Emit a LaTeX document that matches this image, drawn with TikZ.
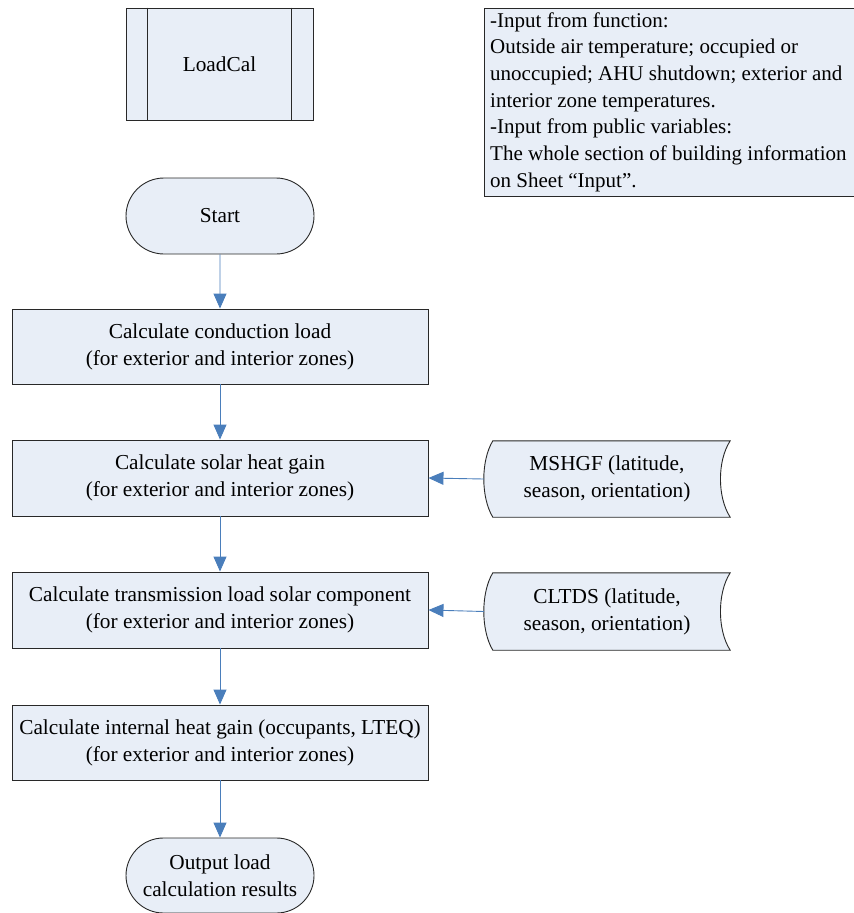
\documentclass[tikz,border=0pt]{standalone}
\usepackage{fontspec}
\setmainfont{Liberation Serif}
\usetikzlibrary{arrows.meta,shapes.misc,calc,backgrounds}
\definecolor{boxfill}{RGB}{232,238,247}
\definecolor{flow}{RGB}{74,126,187}
\definecolor{edge}{RGB}{40,40,40}

\begin{document}
\begin{tikzpicture}[x=1pt,y=-1pt,
  every node/.style={font=\fontsize{21.3}{27}\selectfont},
  proc/.style={draw=edge,fill=boxfill,line width=0.9pt,align=center,inner sep=0pt,
               minimum width=416pt,minimum height=75pt},
  term/.style={proc,rounded rectangle,minimum width=188pt,minimum height=76pt},
  datanode/.style={align=center,inner sep=0pt,minimum width=246pt,minimum height=76pt},
  datashape/.style={draw=edge,fill=boxfill,line width=0.9pt},
  flowline/.style={draw=flow,line width=0.9pt,-{Triangle[length=15pt,width=13pt]}}
]
\useasboundingbox (0,0) rectangle (854,913);

% predefined process block
\node[proc,minimum width=187pt,minimum height=112pt] (lc) at (219.5,64) {LoadCal};
\draw[edge,line width=0.9pt] ([xshift=22pt]lc.north west) -- ([xshift=22pt]lc.south west);
\draw[edge,line width=0.9pt] ([xshift=-22pt]lc.north east) -- ([xshift=-22pt]lc.south east);

% annotation of inputs
\node[draw=edge,fill=boxfill,line width=0.9pt,inner sep=0pt,
      minimum width=372pt,minimum height=188pt] (note) at (670,102) {};
\node[anchor=west,align=left,inner sep=0pt,font=\fontsize{21}{26.7}\selectfont] (notetext) at (490,102)
  {-Input from function:\\
   Outside air temperature; occupied or\\
   unoccupied; AHU shutdown; exterior and\\
   interior zone temperatures.\\
   -Input from public variables:\\
   The whole section of building information\\
   on Sheet \textquotedblleft Input\textquotedblright.};

% main flow
\node[term] (start) at (220,216) {Start};
\node[proc] (b1) at (220,346.5) {Calculate conduction load\\(for exterior and interior zones)};
\node[proc,minimum height=76pt] (b2) at (220,478) {Calculate solar heat gain\\(for exterior and interior zones)};
\node[proc,minimum height=76pt] (b3) at (220,610) {Calculate transmission load solar component\\(for exterior and interior zones)};
\node[proc] (b4) at (220,742.5) {Calculate internal heat gain (occupants, LTEQ)\\(for exterior and interior zones)};
\node[term,minimum height=75pt] (out) at (220,875.5) {Output load\\calculation results};

% stored data inputs
\node[datanode] (d1) at (607,479) {MSHGF (latitude,\\season, orientation)};
\node[datanode,minimum height=77pt] (d2) at (607,611.5) {CLTDS (latitude,\\season, orientation)};

\begin{scope}[on background layer]
\foreach \d in {d1,d2}{
  \draw[datashape]
    ($(\d.north west)+(9,0)$) -- (\d.north east)
    .. controls ($(\d.north east)+(-13,20)$) and ($(\d.south east)+(-13,-20)$) .. (\d.south east)
    -- ($(\d.south west)+(9,0)$)
    .. controls ($(\d.south west)+(-3,-20)$) and ($(\d.north west)+(-3,20)$) .. ($(\d.north west)+(9,0)$)
    -- cycle;
}
\end{scope}

% connectors
\draw[flowline] (start) -- (b1);
\draw[flowline] (b1) -- (b2);
\draw[flowline] (b2) -- (b3);
\draw[flowline] (b3) -- (b4);
\draw[flowline] (b4) -- (out);
\draw[flowline] (d1.west) -- (b2.east);
\draw[flowline] (d2.west) -- (b3.east);
\end{tikzpicture}
\end{document}
